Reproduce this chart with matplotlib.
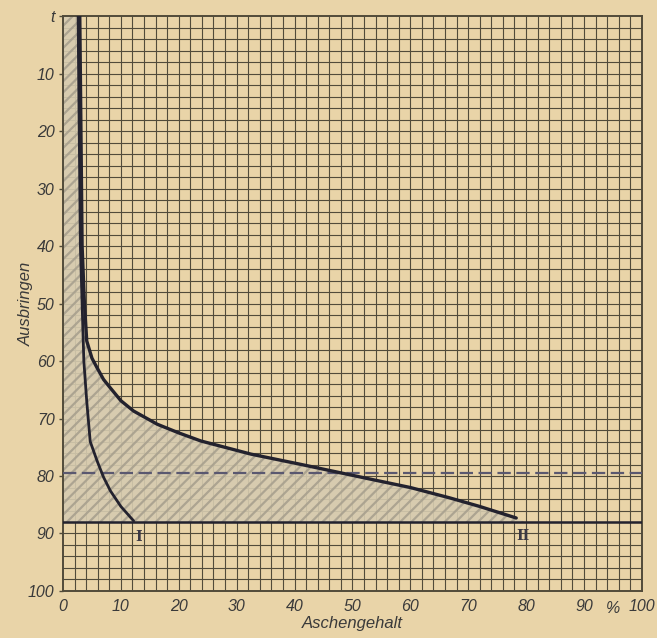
import numpy as np
import matplotlib
matplotlib.use("Agg")
import matplotlib.pyplot as plt

# ---- data ----
curve1_x = [2.6, 2.8, 3.0, 3.3, 3.6, 4.1, 4.7, 5.9, 7.0, 8.2, 10.0, 12.2]
curve1_y = [0, 20, 40, 50, 60, 67, 74, 77.4, 80.2, 82.6, 85.3, 87.8]

curve2_x = [2.9, 3.1, 3.3, 3.7, 4.1, 5.0, 5.9, 7.0, 8.2, 10.0, 12.2, 16.3, 20.0,
            23.8, 32.5, 41.2, 52.9, 60.0, 66.8, 72.0, 78.3]
curve2_y = [0, 20, 40, 50, 56.5, 59.5, 61.2, 63.2, 64.7, 66.9, 68.7, 71.0, 72.5,
            73.9, 76.2, 78.0, 80.5, 82.0, 83.8, 85.3, 87.3]

base_level = 88.0
dashed_level = 79.5

xtick_vals = [0, 10, 20, 30, 40, 50, 60, 70, 80, 90, 100]
xtick_labels = ["0", "10", "20", "30", "40", "50", "60", "70", "80", "90", "100"]
ytick_vals = [0, 10, 20, 30, 40, 50, 60, 70, 80, 90, 100]
ytick_labels = ["t", "10", "20", "30", "40", "50", "60", "70", "80", "90", "100"]

labels_roman = ["I", "II"]
label_pos_x = [13.0, 79.5]
label_pos_y = [90.6, 90.4]

# ---- style ----
bg = "#e9d4a8"
grid_col = "#514b3a"
ink = "#23222e"

plt.rcParams["hatch.linewidth"] = 1.6

fig = plt.figure(figsize=(6.57, 6.38), dpi=100, facecolor=bg)
ax = fig.add_axes([0.0959, 0.0737, 0.881, 0.901])
ax.set_facecolor(bg)
ax.set_xlim(0, 100)
ax.set_ylim(100, 0)

# grid every 2 units
for v in np.arange(2, 100, 2):
    ax.axvline(v, color=grid_col, lw=0.8, zorder=1)
    ax.axhline(v, color=grid_col, lw=0.8, zorder=1)

# hatched area left of curve II down to base level
fx = list(curve2_x) + [curve2_x[-1] + 1.5]
fy = list(curve2_y) + [base_level]
ax.fill_betweenx(fy, 0, fx, facecolor="#d6cbb0", edgecolor="#a8a08e",
                 hatch="///", lw=0, zorder=2, alpha=0.9)

# horizontal reference lines
ax.axhline(base_level, color=ink, lw=1.8, zorder=3)
ax.axhline(dashed_level, color="#5a5870", lw=1.6, ls=(0, (6, 2.5)), zorder=3)

# curves
ax.plot(curve1_x, curve1_y, color=ink, lw=2.0, zorder=4, solid_capstyle="round")
ax.plot(curve2_x, curve2_y, color=ink, lw=2.4, zorder=4, solid_capstyle="round")

for t, xx, yy in zip(labels_roman, label_pos_x, label_pos_y):
    ax.text(xx, yy, t, fontsize=10, family="DejaVu Serif", fontweight="bold",
            color="#3a3844", ha="center", va="center", zorder=5)

for s in ax.spines.values():
    s.set_color(grid_col)
    s.set_linewidth(1.4)

ax.set_xticks(xtick_vals)
ax.set_xticklabels(xtick_labels, fontsize=11.5, style="italic", color="#3a3a3a",
                   family="Liberation Sans")
ax.set_yticks(ytick_vals)
ax.set_yticklabels(ytick_labels, fontsize=11.5, style="italic", color="#3a3a3a",
                   family="Liberation Sans")
ax.tick_params(axis="x", length=0, pad=6)
ax.tick_params(axis="y", length=3, width=1, color=grid_col, pad=3)
ax.text(95, 101.8, "%", fontsize=11.5, style="italic", color="#3a3a3a",
        family="Liberation Sans", ha="center", va="top", clip_on=False)

ax.set_xlabel("Aschengehalt", fontsize=12, style="italic", color="#3a3a3a",
              family="Liberation Sans", labelpad=1)
ax.set_ylabel("Ausbringen", fontsize=12, style="italic", color="#3a3a3a",
              family="Liberation Sans", labelpad=-4)

fig.savefig("out.png", dpi=100, facecolor=bg)
